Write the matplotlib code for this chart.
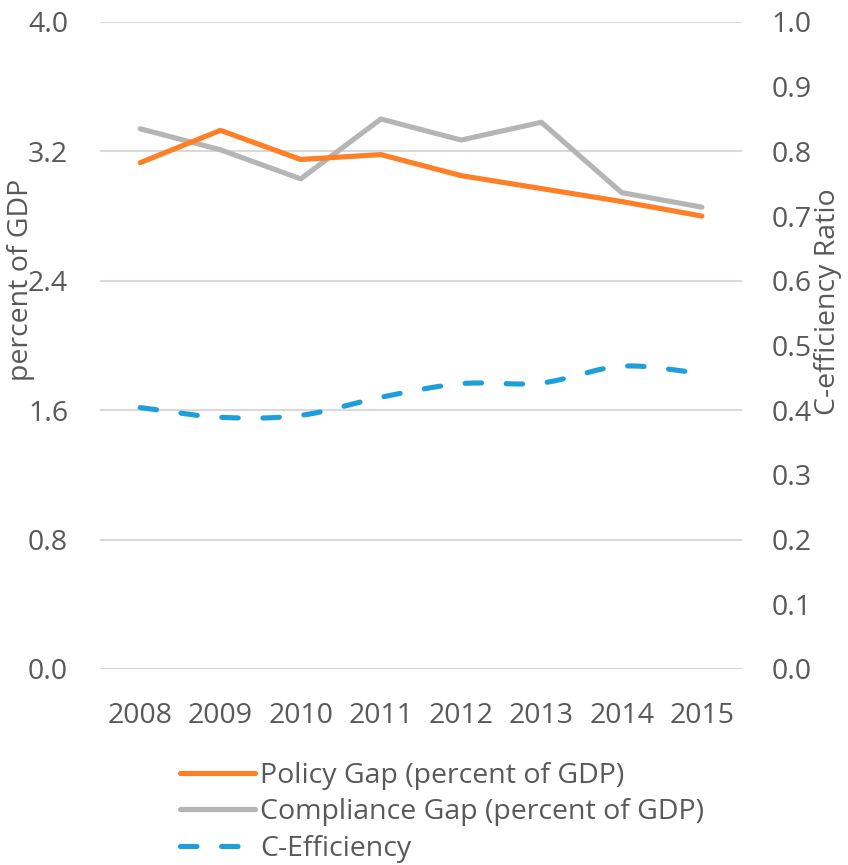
import numpy as np
import matplotlib
matplotlib.use("Agg")
import matplotlib.pyplot as plt

years = ["2008", "2009", "2010", "2011", "2012", "2013", "2014", "2015"]
policy_gap = [3.13, 3.33, 3.15, 3.18, 3.05, 2.97, 2.89, 2.80]
compliance_gap = [3.34, 3.21, 3.03, 3.40, 3.27, 3.38, 2.945, 2.855]
c_efficiency = [0.404, 0.389, 0.392, 0.420, 0.441, 0.442, 0.468, 0.457]

left_ticks = [0.0, 0.8, 1.6, 2.4, 3.2, 4.0]
right_ticks = [0.0, 0.1, 0.2, 0.3, 0.4, 0.5, 0.6, 0.7, 0.8, 0.9, 1.0]

TXT = "#595959"
GRID = "#D9D9D9"
C_ORANGE = "#FF7F27"
C_GRAY = "#B5B5B5"
C_BLUE = "#1F9FDA"
FS = 20.5

plt.rcParams["font.family"] = ["Open Sans", "DejaVu Sans"]

def smooth(xv, yv, n=20):
    # Catmull-Rom style smoothing for display (like Excel's smoothed line)
    xv = np.asarray(xv, float); yv = np.asarray(yv, float)
    px = np.concatenate([[2*xv[0]-xv[1]], xv, [2*xv[-1]-xv[-2]]])
    py = np.concatenate([[2*yv[0]-yv[1]], yv, [2*yv[-1]-yv[-2]]])
    ox, oy = [], []
    t = np.linspace(0, 1, n, endpoint=False)
    for i in range(1, len(px)-2):
        for arr, out in ((px, ox), (py, oy)):
            p0, p1, p2, p3 = arr[i-1], arr[i], arr[i+1], arr[i+2]
            v = 0.5*((2*p1) + (-p0+p2)*t + (2*p0-5*p1+4*p2-p3)*t**2 + (-p0+3*p1-3*p2+p3)*t**3)
            out.extend(v)
    ox.append(xv[-1]); oy.append(yv[-1])
    return np.array(ox), np.array(oy)

fig = plt.figure(figsize=(8.48, 8.65), dpi=100)
ax = fig.add_axes([0.118, 0.2266, 0.757, 0.748])
ax2 = ax.twinx()

x = np.arange(len(years))
l1, = ax.plot(x, policy_gap, color=C_ORANGE, lw=3.7, solid_capstyle="round", solid_joinstyle="round", zorder=3)
l2, = ax.plot(x, compliance_gap, color=C_GRAY, lw=3.7, solid_capstyle="round", solid_joinstyle="round", zorder=2)
sx, sy = smooth(x, c_efficiency)
l3, = ax2.plot(sx, sy, color=C_BLUE, lw=3.7, dash_capstyle="round", dashes=(3.2, 4.8))

ax.set_xlim(-0.5, len(years) - 0.5)
ax.set_ylim(0, 4.0)
ax2.set_ylim(0, 1.0)
ax.set_yticks(left_ticks)
ax.set_yticklabels([f"{v:.1f}" for v in left_ticks])
ax2.set_yticks(right_ticks)
ax2.set_yticklabels([f"{v:.1f}" for v in right_ticks])
ax.set_xticks(x)
ax.set_xticklabels(years)

for a in (ax, ax2):
    for s in a.spines.values():
        s.set_visible(False)
    a.tick_params(length=0, labelsize=FS, colors=TXT)
ax.tick_params(axis="y", pad=23)
ax2.tick_params(axis="y", pad=21.5)
ax.tick_params(axis="x", pad=24)
ax.grid(axis="y", color=GRID, lw=1.5)
ax.set_axisbelow(True)

fig.text(0.025, 0.677, "percent of GDP", rotation=90, ha="center", va="center", fontsize=FS, color=TXT)
fig.text(0.977, 0.651, "C-efficiency Ratio", rotation=90, ha="center", va="center", fontsize=FS, color=TXT)

leg = fig.legend([l1, l2, l3],
                 ["Policy Gap (percent of GDP)", "Compliance Gap (percent of GDP)", "C-Efficiency"],
                 loc="upper left", bbox_to_anchor=(0.212, 0.119), frameon=False,
                 fontsize=FS, handlelength=2.63, handletextpad=0.18, labelspacing=0.29,
                 borderpad=0, borderaxespad=0)
for t in leg.get_texts():
    t.set_color(TXT)

fig.savefig("out.png", dpi=100)
